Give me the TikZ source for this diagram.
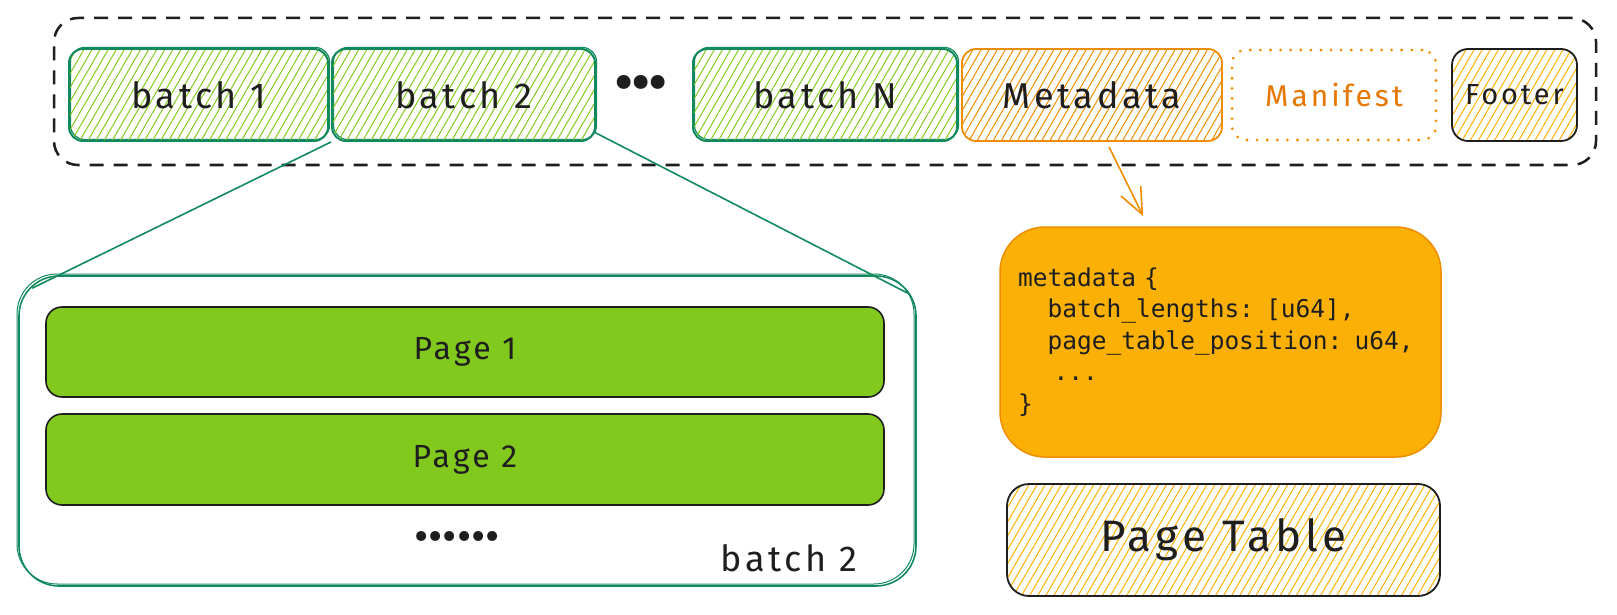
\documentclass[tikz,border=0pt]{standalone}
\usepackage{fontspec}
\setmainfont{Fira Sans}
\setmonofont{DejaVu Sans Mono}
\newfontfamily\handfont{Fira Sans}[LetterSpace=10]
\usetikzlibrary{patterns.meta,arrows.meta,calc}
\definecolor{grstroke}{HTML}{138A5E}
\definecolor{lime}{HTML}{82C91E}
\definecolor{orstroke}{HTML}{F08C00}
\definecolor{ortext}{HTML}{E67700}
\definecolor{amber}{HTML}{FAB005}
\definecolor{ink}{HTML}{1E1E1E}
\tikzset{
  hand/.style={font=\handfont\fontsize{36}{40}\selectfont, text=ink},
  batchbox/.style={hand, draw=grstroke, line width=2pt, rounded corners=14pt,
    minimum height=92pt, pattern={Lines[angle=60,distance=7pt,line width=1pt]}, pattern color=lime,
    preaction={draw=grstroke, line width=1.2pt, transform canvas={xshift=1.5pt,yshift=1.5pt}}},
  metabox/.style={hand, draw=orstroke, line width=1.8pt, rounded corners=14pt,
    minimum height=92pt, pattern={Lines[angle=60,distance=7pt,line width=1pt]}, pattern color=orstroke},
  manibox/.style={font=\handfont\fontsize{30}{34}\selectfont, text=ortext, draw=orstroke, line width=3pt,
    dash pattern=on 0.1pt off 10pt, line cap=round, rounded corners=14pt, minimum height=90pt},
  footbox/.style={font=\handfont\fontsize{29}{32}\selectfont, text=ink, draw=ink, line width=1.8pt, rounded corners=16pt,
    minimum height=92pt, inner sep=0pt, pattern={Lines[angle=60,distance=7pt,line width=1pt]}, pattern color=amber},
  outerbox/.style={draw=ink, line width=2.5pt, dash pattern=on 14pt off 10pt, rounded corners=24pt},
  bigbox/.style={draw=grstroke, line width=1.6pt, rounded corners=40pt,
    preaction={draw=grstroke, line width=1pt, transform canvas={xshift=-2pt,yshift=2pt}}},
  pagebox/.style={font=\handfont\fontsize{32}{36}\selectfont, text=ink, draw=ink, line width=1.6pt, fill=lime, rounded corners=16pt},
  codebox/.style={draw=orstroke, line width=1.5pt, fill=amber, rounded corners=45pt,
    font=\ttfamily\fontsize{24.5}{31.5}\selectfont, text=ink, align=left},
  tablebox/.style={font=\handfont\fontsize{44}{48}\selectfont, text=ink, draw=ink, line width=1.8pt, rounded corners=22pt,
    pattern={Lines[angle=60,distance=7pt,line width=1pt]}, pattern color=amber},
  zoomline/.style={draw=grstroke, line width=1.6pt},
  metaarrow/.style={draw=orstroke, line width=1.6pt, -{Straight Barb[length=26pt,width=22pt]}},
}
\newcommand{\us}{\char"5F\relax}
\begin{document}
\begin{tikzpicture}[x=1pt,y=-1pt]
\useasboundingbox (0,0) rectangle (1617,615);
\node[outerbox, minimum width=1542pt, minimum height=147pt] (outer) at (825,91.5) {};
\node[batchbox, minimum width=259pt] (b1) at (198.5,95) {batch 1};
\node[batchbox, minimum width=263pt] (b2) at (463.5,95) {batch 2};
\node[font=\fontsize{50}{50}\selectfont\bfseries, text=ink] (dots) at (641,88) {•••};
\node[batchbox, minimum width=264pt] (bN) at (825,95) {batch N};
\node[metabox, minimum width=260pt] (meta) at (1092,95) {Metadata};
\node[manibox, minimum width=204pt] (mani) at (1334,95) {Manifest};
\node[footbox, minimum width=125pt] (foot) at (1514.5,95) {Footer};

\node[bigbox, minimum width=897pt, minimum height=310pt] (big) at (467.5,431) {};
\node[pagebox, minimum width=838pt, minimum height=90pt] (p1) at (465,352) {Page 1};
\node[pagebox, minimum width=838pt, minimum height=91pt] (p2) at (465,459.5) {Page 2};
\node[font=\fontsize{44}{44}\selectfont, text=ink] (more) at (457,542) {••••••};
\node[hand] (blabel) at (789,558) {batch 2};

\draw[zoomline] (b2.south west) -- ([shift={(14,13)}]big.north west);
\draw[zoomline] ([shift={(-2,-10)}]b2.south east) -- ([shift={(-9,18)}]big.north east);

\node[codebox, minimum width=441pt, minimum height=230pt, text width=405pt] (code) at (1220.5,342)
  {metadata \{\\
   \hphantom{mm}batch\us lengths: [u64],\\
   \hphantom{mm}page\us table\us position: u64,\\
   \hphantom{mm}\hspace{6pt}...\\
   \}};
\node[tablebox, minimum width=433pt, minimum height=112pt] (ptab) at (1223.5,540) {Page Table};

\draw[metaarrow] ([shift={(17,5)}]meta.south) -- ([shift={(144,-10)}]code.north west);
\end{tikzpicture}
\end{document}
